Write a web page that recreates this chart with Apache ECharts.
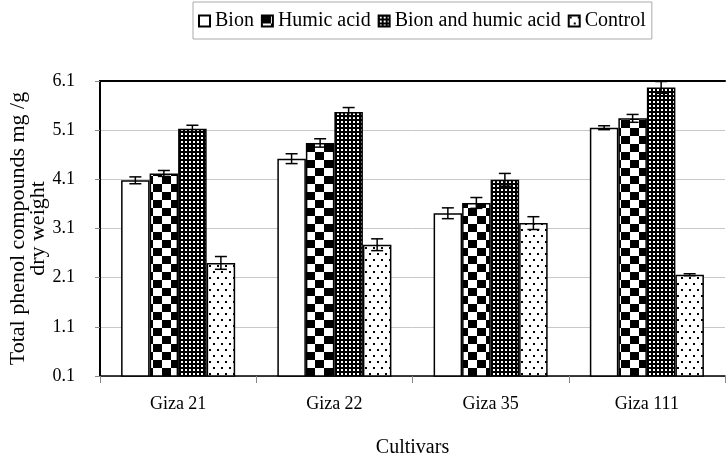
<!DOCTYPE html>
<html><head><meta charset="utf-8">
<script src="https://cdn.jsdelivr.net/npm/echarts@6/dist/echarts.min.js"></script>
<style>html,body{margin:0;padding:0;background:#fff}#c{width:727px;height:460px}</style>
</head><body><div id="c"></div>
<script>
const categories = ['Giza 21', 'Giza 22', 'Giza 35', 'Giza 111'];
const seriesNames = ['Bion', 'Humic acid', 'Bion and humic acid', 'Control'];
const bion = [4.08, 4.52, 3.41, 5.15];
const humic = [4.22, 4.84, 3.62, 5.34];
const bionHumic = [5.13, 5.47, 4.09, 5.97];
const control = [2.40, 2.77, 3.21, 2.16];
const bionErr = [0.07, 0.10, 0.11, 0.04];
const humicErr = [0.06, 0.085, 0.11, 0.08];
const bionHumicErr = [0.07, 0.09, 0.13, 0.12];
const controlErr = [0.13, 0.12, 0.13, 0.02];
const yTicks = [0.1, 1.1, 2.1, 3.1, 4.1, 5.1, 6.1];

const FONT = '"Liberation Serif", "Times New Roman", serif';
const GAP = 0.27;

function makePattern(w, h, bg, fg, rects) {
  const c = document.createElement('canvas');
  c.width = w; c.height = h;
  const g = c.getContext('2d');
  g.fillStyle = bg; g.fillRect(0, 0, w, h);
  g.fillStyle = fg;
  rects.forEach(r => g.fillRect(r[0], r[1], r[2], r[3]));
  return { image: c, repeat: 'repeat' };
}
const fills = [
  '#ffffff',
  makePattern(18, 16, '#ffffff', '#000000', [[0, 0, 9, 8], [9, 8, 9, 8]]),
  makePattern(4, 4, '#000000', '#ffffff', [[1, 1, 2, 2]]),
  makePattern(8, 12, '#ffffff', '#000000', [[1, 1, 2, 2], [5, 7, 2, 2]])
];
const values = [bion, humic, bionHumic, control];
const errs = [bionErr, humicErr, bionHumicErr, controlErr];

const barSeries = seriesNames.map((name, i) => ({
  name: name,
  type: 'bar',
  xAxisIndex: 0,
  barGap: '0%',
  barCategoryGap: (GAP * 100) + '%',
  data: values[i],
  itemStyle: { color: fills[i], borderColor: '#000', borderWidth: 1.5 },
  emphasis: { disabled: true }
}));

function errSeries(idx) {
  return {
    type: 'custom',
    xAxisIndex: 0,
    yAxisIndex: 0,
    z: 10,
    silent: true,
    data: values[idx].map((v, i) => [i, v, errs[idx][i]]),
    renderItem: function (params, api) {
      const x = api.value(0), v = api.value(1), e = api.value(2);
      const catW = api.size([1, 0])[0];
      const groupW = catW * (1 - GAP);
      const bw = groupW / 4;
      const c = api.coord([x, v]);
      const cx = c[0] - groupW / 2 + bw * (idx + 0.5);
      const yHi = api.coord([x, v + e])[1];
      const yLo = api.coord([x, v - e])[1];
      const half = 6;
      const st = { stroke: '#000', lineWidth: 1.5 };
      return {
        type: 'group', children: [
          { type: 'line', shape: { x1: cx, y1: yHi, x2: cx, y2: yLo }, style: st },
          { type: 'line', shape: { x1: cx - half, y1: yHi, x2: cx + half, y2: yHi }, style: st },
          { type: 'line', shape: { x1: cx - half, y1: yLo, x2: cx + half, y2: yLo }, style: st }
        ]
      };
    }
  };
}

const chart = echarts.init(document.getElementById('c'), null, { renderer: 'canvas' });
chart.setOption({
  animation: false,
  backgroundColor: '#fff',
  textStyle: { fontFamily: FONT, color: '#000' },
  legend: {
    data: seriesNames,
    left: 193, top: 2,
    itemWidth: 11, itemHeight: 11, itemGap: 7,
    padding: [9, 6, 8, 5],
    borderColor: '#aaa', borderWidth: 1,
    icon: 'rect',
    textStyle: { fontSize: 20, color: '#000', fontFamily: FONT }
  },
  grid: { left: 100, right: 2, top: 81, bottom: 84, containLabel: false, outerBoundsMode: 'none' },
  xAxis: [{
    type: 'category',
    data: categories,
    position: 'bottom',
    axisLine: { lineStyle: { color: '#000', width: 1.5 } },
    axisTick: { show: true, length: 7, lineStyle: { color: '#888' } },
    axisLabel: { fontSize: 18, color: '#000', margin: 19, fontFamily: FONT },
    name: 'Cultivars',
    nameLocation: 'middle',
    nameGap: 62,
    nameMoveOverlap: false,
    nameTextStyle: { fontSize: 20, color: '#000', fontFamily: FONT }
  }, {
    type: 'category',
    data: categories,
    position: 'top',
    axisLine: { lineStyle: { color: '#000', width: 2 } },
    axisTick: { show: false },
    axisLabel: { show: false }
  }],
  yAxis: {
    type: 'value',
    min: 0.1, max: 6.1,
    axisLine: { show: true, lineStyle: { color: '#000', width: 2 } },
    axisTick: { show: true, length: 5, lineStyle: { color: '#888' }, customValues: yTicks },
    axisLabel: { fontSize: 18, color: '#000', margin: 25, fontFamily: FONT, customValues: yTicks,
      formatter: v => Number(v).toFixed(1) },
    splitLine: { show: true, lineStyle: { color: '#c8c8c8', width: 1 } },
    name: 'Total phenol compounds mg /g\ndry weight',
    nameLocation: 'middle',
    nameRotate: 90,
    nameGap: 52,
    nameMoveOverlap: false,
    nameTextStyle: { fontSize: 22, lineHeight: 20, color: '#000', fontFamily: FONT }
  },
  series: barSeries.concat([0, 1, 2, 3].map(errSeries))
});
</script>
</body></html>
